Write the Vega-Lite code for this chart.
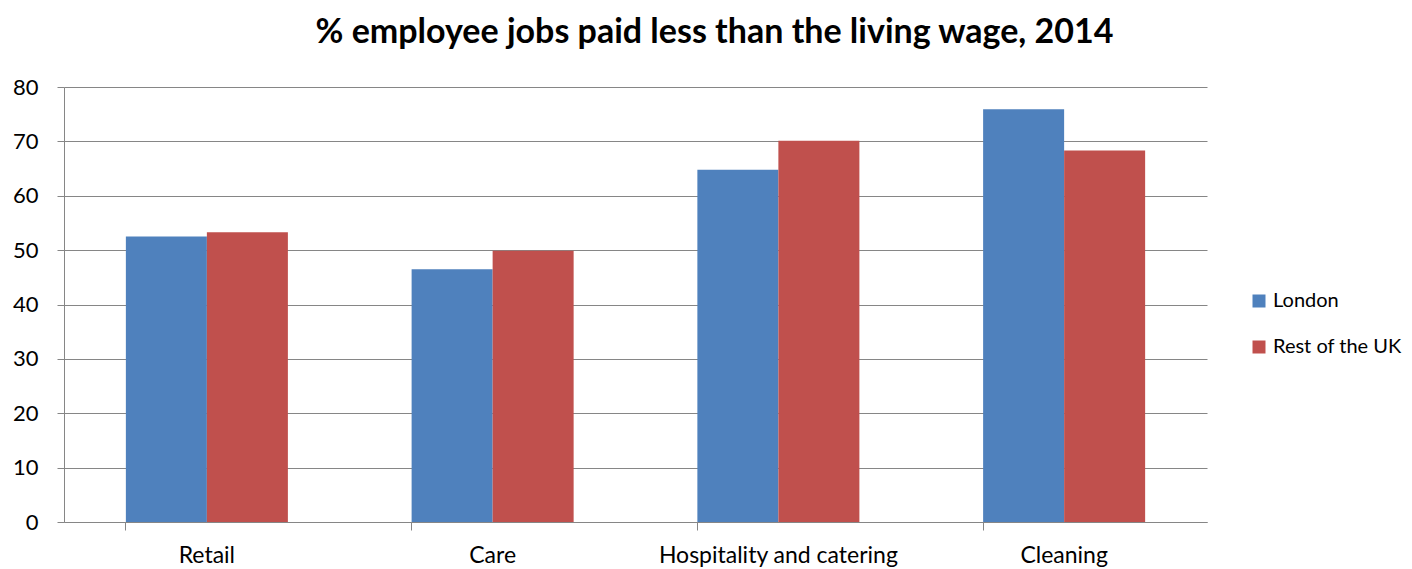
{
  "$schema": "https://vega.github.io/schema/vega-lite/v6.json",
  "width": 1143,
  "height": 435,
  "autosize": {"type": "none"},
  "padding": {"left": 64, "top": 87, "right": 205, "bottom": 47},
  "background": "white",
  "title": {
    "text": "% employee jobs paid less than the living wage, 2014",
    "font": "Lato",
    "fontSize": 34,
    "fontWeight": "bold",
    "color": "#000000",
    "anchor": "middle",
    "dx": 79,
    "offset": 26
  },
  "data": {
    "values": [
      {"sector": "Retail", "region": "London", "pct": 52.5},
      {"sector": "Retail", "region": "Rest of the UK", "pct": 53.3},
      {"sector": "Care", "region": "London", "pct": 46.5},
      {"sector": "Care", "region": "Rest of the UK", "pct": 49.9},
      {"sector": "Hospitality and catering", "region": "London", "pct": 64.8},
      {"sector": "Hospitality and catering", "region": "Rest of the UK", "pct": 70.1},
      {"sector": "Cleaning", "region": "London", "pct": 75.9},
      {"sector": "Cleaning", "region": "Rest of the UK", "pct": 68.3}
    ]
  },
  "mark": {"type": "bar"},
  "encoding": {
    "x": {
      "field": "sector",
      "type": "nominal",
      "sort": ["Retail", "Care", "Hospitality and catering", "Cleaning"],
      "scale": {"paddingInner": 0.433, "paddingOuter": 0.2165},
      "axis": {
        "title": null,
        "labelAngle": 0,
        "labelFont": "Lato",
        "labelFontSize": 23,
        "labelLimit": 0,
        "labelColor": "#000000",
        "labelPadding": 14,
        "bandPosition": 0,
        "tickSize": 8,
        "tickColor": "#868686",
        "domainColor": "#868686",
        "grid": false
      }
    },
    "xOffset": {
      "field": "region",
      "type": "nominal",
      "scale": {"paddingInner": 0, "paddingOuter": 0}
    },
    "y": {
      "field": "pct",
      "type": "quantitative",
      "scale": {"domain": [0, 80], "nice": false},
      "axis": {
        "title": null,
        "values": [0, 10, 20, 30, 40, 50, 60, 70, 80],
        "labelFont": "Lato",
        "labelFontSize": 22,
        "labelColor": "#000000",
        "labelPadding": 19,
        "tickSize": 7,
        "tickColor": "#868686",
        "domainColor": "#868686",
        "grid": true,
        "gridColor": "#868686",
        "gridWidth": 1
      }
    },
    "color": {
      "field": "region",
      "type": "nominal",
      "scale": {"domain": ["London", "Rest of the UK"], "range": ["#4F81BD", "#C0504D"]},
      "legend": {
        "title": null,
        "orient": "none",
        "legendX": 1185,
        "legendY": 204,
        "symbolType": "square",
        "symbolSize": 169,
        "symbolStrokeWidth": 0,
        "symbolOpacity": 1,
        "labelFont": "Lato",
        "labelFontSize": 20,
        "labelColor": "#000000",
        "labelOffset": 4,
        "rowPadding": 26
      }
    }
  },
  "config": {
    "view": {"stroke": null},
    "axis": {"labelFontWeight": "normal"}
  }
}
